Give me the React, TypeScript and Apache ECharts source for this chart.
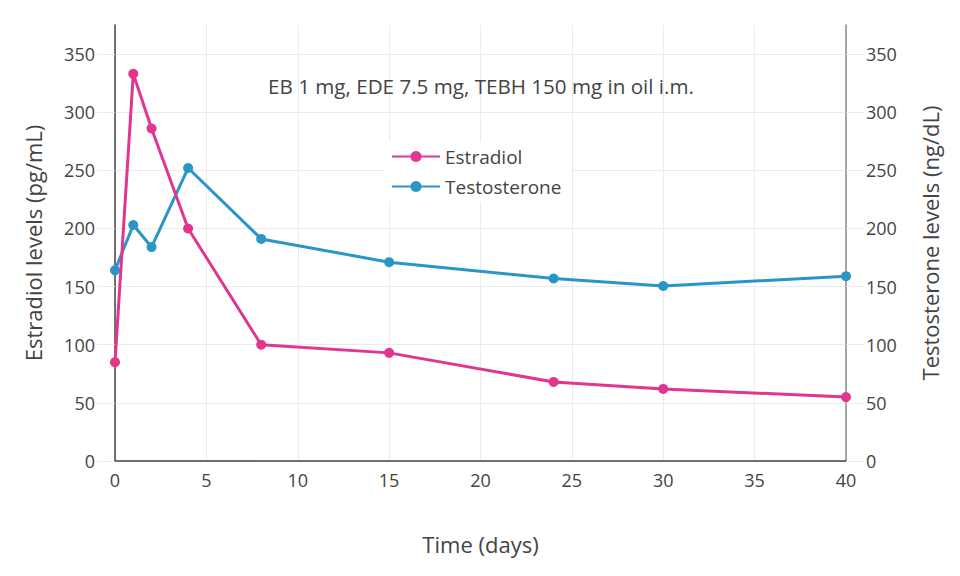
import React, { useEffect, useRef } from "react";
import * as echarts from "echarts";

const days = [0, 1, 2, 4, 8, 15, 24, 30, 40];
const estradiol = [85, 333, 286, 200, 100, 93, 68, 62, 55];
const testosterone = [164, 203, 184, 252, 191, 171, 157, 150.5, 159];
const yTicks = [0, 50, 100, 150, 200, 250, 300, 350];
const seriesNames = ["Estradiol", "Testosterone"];
const titleText = "EB 1 mg, EDE 7.5 mg, TEBH 150 mg in oil i.m.";

const FONT = "'Open Sans', sans-serif";
const TXT = "#444";
const GRID = "#ebebeb";
const PINK = "#e0368f";
const BLUE = "#2a96c8";

export default function App() {
  const ref = useRef<HTMLDivElement>(null);
  useEffect(() => {
    if (!ref.current) return;
    const chart = echarts.init(ref.current, null, { renderer: "svg" });
    const splitColors = [GRID, GRID, GRID, GRID, GRID, GRID, GRID, GRID, "rgba(0,0,0,0)"];
    const yCommon = {
      type: "value",
      min: 0,
      max: 375,
      interval: 50,
      nameLocation: "middle",
      nameRotate: 90,
      nameTextStyle: { fontFamily: FONT, fontSize: 22, color: TXT },
      axisTick: {
        show: true,
        length: 18,
        customValues: yTicks,
        lineStyle: { color: GRID, width: 1 },
      },
      axisLabel: {
        fontFamily: FONT,
        fontSize: 18,
        color: TXT,
        margin: 20,
        customValues: yTicks,
      },
    };
    chart.setOption({
      animation: false,
      backgroundColor: "#fff",
      textStyle: { fontFamily: FONT },
      grid: { left: 115, right: 114, top: 25, bottom: 115, containLabel: false },
      title: {
        text: titleText,
        left: 476,
        top: 70,
        textAlign: "center",
        textStyle: { fontFamily: FONT, fontSize: 20.6, fontWeight: "normal", color: TXT },
      },
      legend: {
        data: seriesNames,
        orient: "vertical",
        left: 385,
        top: 141,
        backgroundColor: "#fff",
        padding: [6, 10, 6, 6],
        itemWidth: 48,
        itemHeight: 14,
        itemGap: 11,
        textStyle: { fontFamily: FONT, fontSize: 19, color: TXT },
      },
      xAxis: {
        type: "value",
        min: 0,
        max: 40,
        interval: 5,
        name: "Time (days)",
        nameLocation: "middle",
        nameGap: 72,
        nameTextStyle: { fontFamily: FONT, fontSize: 22, color: TXT },
        axisLine: { show: true, onZero: false, lineStyle: { color: TXT, width: 1.5 } },
        axisTick: { show: false },
        axisLabel: { fontFamily: FONT, fontSize: 18, color: TXT, margin: 10 },
        splitLine: { show: true, lineStyle: { color: GRID, width: 1 } },
      },
      yAxis: [
        {
          ...yCommon,
          position: "left",
          name: "Estradiol levels (pg/mL)",
          nameGap: 71,
          axisLine: { show: true, lineStyle: { color: TXT, width: 1.5 } },
          splitLine: { show: true, lineStyle: { color: splitColors, width: 1 } },
        },
        {
          ...yCommon,
          position: "right",
          name: "Testosterone levels (ng/dL)",
          nameGap: 73,
          axisLine: { show: true, lineStyle: { color: "#8a8a8a", width: 1.5 } },
          splitLine: { show: false },
        },
      ],
      series: [
        {
          name: seriesNames[0],
          type: "line",
          yAxisIndex: 0,
          data: days.map((d, i) => [d, estradiol[i]]),
          symbol: "circle",
          symbolSize: 10,
          lineStyle: { color: PINK, width: 3 },
          itemStyle: { color: PINK },
          z: 3,
        },
        {
          name: seriesNames[1],
          type: "line",
          yAxisIndex: 1,
          data: days.map((d, i) => [d, testosterone[i]]),
          symbol: "circle",
          symbolSize: 10,
          lineStyle: { color: BLUE, width: 3 },
          itemStyle: { color: BLUE },
          z: 2,
        },
      ],
    });
    return () => chart.dispose();
  }, []);
  return (
    <div
      ref={ref}
      style={{ position: "absolute", left: 0, top: 0, width: 960, height: 576 }}
    />
  );
}
